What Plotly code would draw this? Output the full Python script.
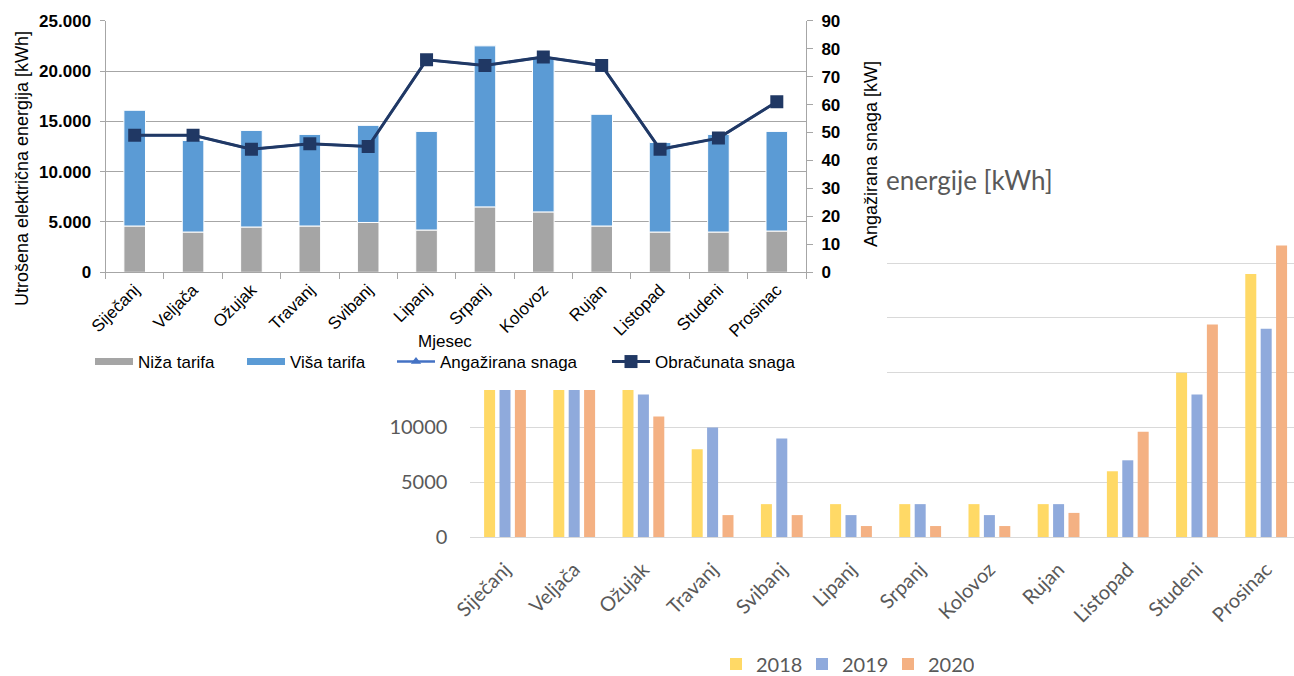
import plotly.graph_objects as go

# ---- data -------------------------------------------------------------
months = ["Siječanj", "Veljača", "Ožujak", "Travanj", "Svibanj", "Lipanj",
          "Srpanj", "Kolovoz", "Rujan", "Listopad", "Studeni", "Prosinac"]

# electricity consumption per tariff [kWh]
niza_tarifa = [4600, 4000, 4500, 4600, 4950, 4200, 6500, 6000, 4600, 4000, 4000, 4100]
visa_tarifa = [11500, 9100, 9600, 9100, 9650, 9800, 16000, 15300, 11100, 8900, 9700, 9900]

# power [kW]
angazirana_snaga = [49, 49, 44, 46, 45, 76, 74, 77, 74, 44, 48, 61]
obracunata_snaga = [49, 49, 44, 46, 45, 76, 74, 77, 74, 44, 48, 61]

# yearly energy consumption [kWh]
god_2018 = [25000, 22000, 15500, 8000, 3000, 3000, 3000, 3000, 3000, 6000, 15000, 24000]
god_2019 = [21000, 19000, 13000, 10000, 9000, 2000, 3000, 2000, 3000, 7000, 13000, 19000]
god_2020 = [24000, 20000, 11000, 2000, 2000, 1000, 1000, 1000, 2200, 9600, 19400, 26600]

W, H = 1294, 676


def px_x(p):
    return p / W


def px_y(p):
    return 1 - p / H


fig = go.Figure()

# ---- yearly chart (behind) -------------------------------------------
year_series = [("2018", god_2018, "#FFD966", -0.302),
               ("2019", god_2019, "#8FAADC", -0.0795),
               ("2020", god_2020, "#F4B183", 0.143)]
for name, vals, col, off in year_series:
    fig.add_trace(go.Bar(
        x=months, y=vals, name=name, xaxis="x", yaxis="y",
        marker=dict(color=col, line=dict(width=0)),
        width=0.159, offset=off, legend="legend2", legendwidth=41,
    ))

# empty panel whose white background sits over the yearly chart
fig.add_trace(go.Scatter(x=[None], y=[None], xaxis="x2", yaxis="y2",
                         showlegend=False, hoverinfo="skip"))

# ---- tariff / power chart (front) ------------------------------------
GRAY, BLUE = "#A5A5A5", "#5B9BD5"
fig.add_trace(go.Bar(
    x=months, y=niza_tarifa, name="Niža tarifa", xaxis="x3", yaxis="y3",
    marker=dict(color=GRAY, line=dict(color="white", width=1)),
    width=0.37, legendgroup="niza", showlegend=False,
))
fig.add_trace(go.Bar(
    x=months, y=visa_tarifa, base=niza_tarifa, name="Viša tarifa",
    xaxis="x3", yaxis="y3",
    marker=dict(color=BLUE, line=dict(color="white", width=1)),
    width=0.37, legendgroup="visa", showlegend=False,
))
fig.add_trace(go.Scatter(
    x=months, y=angazirana_snaga, name="Angažirana snaga", xaxis="x3", yaxis="y4",
    mode="lines+markers", line=dict(color="#4472C4", width=2.5),
    marker=dict(symbol="triangle-up", size=9, color="#4472C4"),
    legend="legend", legendrank=3, legendwidth=162,
))
fig.add_trace(go.Scatter(
    x=months, y=obracunata_snaga, name="Obračunata snaga", xaxis="x3", yaxis="y4",
    mode="lines+markers", line=dict(color="#203864", width=3),
    marker=dict(symbol="square", size=13, color="#203864"),
    legend="legend", legendrank=4,
))
# flat bar-style legend keys for the two tariff series
fig.add_trace(go.Scatter(
    x=[None], y=[None], name="Niža tarifa", xaxis="x3", yaxis="y3", mode="lines",
    line=dict(color=GRAY, width=7), legendgroup="niza",
    legend="legend", legendrank=1, legendwidth=99, hoverinfo="skip",
))
fig.add_trace(go.Scatter(
    x=[None], y=[None], name="Viša tarifa", xaxis="x3", yaxis="y3", mode="lines",
    line=dict(color=BLUE, width=7), legendgroup="visa",
    legend="legend", legendrank=2, legendwidth=97, hoverinfo="skip",
))

front_font = "Liberation Sans, Arial, sans-serif"
back_font = "Lato, sans-serif"
grid_front = "#A6A6A6"

fig.update_layout(
    template="none",
    width=W, height=H, autosize=False,
    margin=dict(l=0, r=0, t=0, b=0, pad=0, autoexpand=False),
    paper_bgcolor="white", plot_bgcolor="white",
    barmode="overlay", separators=",.",
    showlegend=True,
    # yearly chart axes
    xaxis=dict(domain=[px_x(470.4), 1], anchor="y", type="category", automargin=False,
               range=[-0.5, 11.402], showgrid=False, showline=False, zeroline=False,
               ticks="", tickangle=-45, ticklabelstandoff=16,
               tickfont=dict(family=back_font, size=20, color="#595959")),
    yaxis=dict(domain=[px_y(537), px_y(208.3)], anchor="x", range=[0, 30000],
               automargin=False,
               dtick=5000, tickformat="d", showgrid=True, gridcolor="#D9D9D9",
               gridwidth=1, zeroline=True, zerolinecolor="#D9D9D9", zerolinewidth=1,
               showline=False, ticks="", ticklabelstandoff=22,
               tickfont=dict(family=back_font, size=20, color="#595959")),
    # covering panel
    xaxis2=dict(domain=[0, px_x(887)], anchor="y2", visible=False, range=[0, 1],
                automargin=False),
    yaxis2=dict(domain=[px_y(390), 1], anchor="x2", visible=False, range=[0, 1],
                automargin=False),
    # tariff / power chart axes
    xaxis3=dict(domain=[px_x(105.5), px_x(806)], anchor="y3", type="category",
                range=[-0.5, 11.5], automargin=False, zeroline=False,
                showgrid=False, showline=True, linecolor=grid_front, linewidth=1,
                ticks="outside", tickson="boundaries", ticklen=6, tickcolor=grid_front,
                tickangle=-45,
                tickfont=dict(family=front_font, size=17, color="#000000")),
    yaxis3=dict(domain=[px_y(272.3), px_y(20.7)], anchor="x3", range=[0, 25000],
                automargin=False,
                dtick=5000, tickformat=",d", showgrid=True, gridcolor=grid_front,
                gridwidth=1, zeroline=False, showline=True, linecolor=grid_front,
                ticks="outside", ticklen=5, tickcolor=grid_front, ticklabelstandoff=5,
                tickfont=dict(family=front_font, size=17, color="#000000", weight="bold")),
    yaxis4=dict(overlaying="y3", anchor="x3", side="right", range=[0, 90], dtick=10,
                automargin=False,
                showgrid=False, zeroline=False, showline=True, linecolor=grid_front,
                ticks="outside", ticklen=6, tickcolor=grid_front, ticklabelstandoff=5,
                tickfont=dict(family=front_font, size=17, color="#000000", weight="bold")),
    legend=dict(orientation="h", x=px_x(90), xanchor="left", y=px_y(362),
                yanchor="middle", bgcolor="rgba(0,0,0,0)",
                font=dict(family=front_font, size=17, color="#000000"),
                itemwidth=38, traceorder="normal"),
    legend2=dict(orientation="h", x=px_x(716), xanchor="left", y=px_y(664),
                 yanchor="middle", bgcolor="rgba(0,0,0,0)",
                 font=dict(family=back_font, size=20, color="#595959"),
                 traceorder="normal"),
    annotations=[
        dict(text="Utrošena električna energija [kWh]", xref="paper", yref="paper",
             x=px_x(22), y=px_y(169), textangle=-90, showarrow=False,
             xanchor="center", yanchor="middle",
             font=dict(family=front_font, size=18, color="#000000")),
        dict(text="Angažirana snaga [kW]", xref="paper", yref="paper",
             x=px_x(871), y=px_y(154), textangle=-90, showarrow=False,
             xanchor="center", yanchor="middle",
             font=dict(family=front_font, size=18, color="#000000")),
        dict(text="Mjesec", xref="paper", yref="paper",
             x=px_x(445), y=px_y(341), showarrow=False,
             xanchor="center", yanchor="middle",
             font=dict(family=front_font, size=17, color="#000000")),
        dict(text="energije [kWh]", xref="paper", yref="paper",
             x=px_x(884), y=px_y(180), showarrow=False,
             xanchor="left", yanchor="middle",
             font=dict(family=back_font, size=26, color="#595959")),
    ],
)

fig.write_html("out.html")
